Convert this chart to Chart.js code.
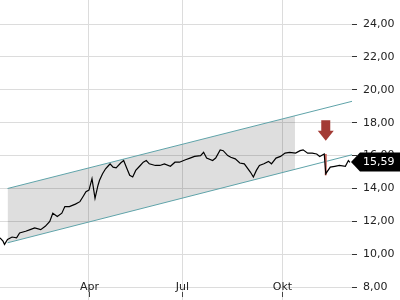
<!DOCTYPE html>
<html>
<head>
<meta charset="utf-8">
<script src="https://cdn.jsdelivr.net/npm/chart.js@4.4.1/dist/chart.umd.min.js"></script>
<style>
  html, body { margin: 0; padding: 0; background: #fff; }
  #wrap { width: 400px; height: 300px; }
</style>
</head>
<body>
<div id="wrap"><canvas id="kursChart"></canvas></div>
<script>
// trading-day index and closing price
const days = [0, 2, 3, 5, 8, 11, 13, 17, 20, 23, 27, 30, 33, 35, 38, 41, 43, 46, 50, 53,
  55, 57, 59, 61, 63, 65, 66, 68, 70, 72, 73, 75, 77, 80, 82, 84, 86, 88, 90, 93,
  95, 97, 99, 103, 106, 109, 113, 116, 119, 123, 126, 129, 133, 135, 137, 141, 143, 146, 148, 151,
  153, 156, 159, 162, 166, 168, 170, 172, 175, 178, 180, 183, 186, 189, 192, 196, 199, 201, 204, 207,
  210, 212, 215, 216, 219, 222, 225, 229, 231, 232];
const close = [11.0, 10.8, 10.6, 10.9, 11.05, 11.0, 11.3, 11.4, 11.5, 11.6, 11.5, 11.7, 12.0, 12.5, 12.3, 12.5, 12.9, 12.9, 13.05, 13.2,
  13.5, 13.8, 13.9, 14.6, 13.4, 14.2, 14.5, 14.9, 15.2, 15.4, 15.5, 15.3, 15.25, 15.55, 15.7, 15.25, 14.8, 14.7, 15.1, 15.4,
  15.6, 15.7, 15.5, 15.4, 15.4, 15.5, 15.35, 15.6, 15.6, 15.75, 15.85, 15.95, 16.0, 16.2, 15.85, 15.7, 15.85, 16.35, 16.3, 16.0,
  15.9, 15.8, 15.55, 15.5, 15.0, 14.7, 15.1, 15.4, 15.5, 15.65, 15.5, 15.85, 15.95, 16.15, 16.2, 16.15, 16.3, 16.35, 16.15, 16.15,
  16.1, 15.95, 16.1, 14.9, 15.3, 15.35, 15.4, 15.35, 15.7, 15.59];

// trend channel (start / end of the lines, end of the shaded part)
const channelDays = [5, 233.4];
const channelUpper = [14.0, 19.3];
const channelLower = [10.7, 16.05];
const shadeDays = [5, 195.6];
const shadeUpper = [14.0, 18.42];
const shadeLower = [10.7, 15.16];

// sell signal bar and arrow
const signalDay = [216, 216];
const signalRange = [16.1, 14.8];
const arrowDay = 216;
const arrowTop = 18.15;
const arrowTip = 16.9;

const monthLabels = ['Apr', 'Jul', 'Okt'];
const monthDays = [59, 121, 187];
const yTicks = [8, 10, 12, 14, 16, 18, 20, 22, 24];

const FONT = "'DejaVu Sans', sans-serif";
const fmt = v => v.toFixed(2).replace('.', ',');
const pts = (xs, ys) => xs.map((x, i) => ({ x: x, y: ys[i] }));

function noPadding(s) {
  s.paddingTop = 0;
  s.paddingBottom = 0;
  s.paddingLeft = 0;
  s.paddingRight = 0;
}

const overlay = {
  id: 'overlay',
  afterDatasetsDraw(chart) {
    const ctx = chart.ctx;
    const x = chart.scales.x, y = chart.scales.y;

    // red arrow
    const ax = x.getPixelForValue(arrowDay);
    const top = y.getPixelForValue(arrowTop);
    const tip = y.getPixelForValue(arrowTip);
    const neck = tip - 10;
    ctx.save();
    ctx.fillStyle = '#a33b35';
    ctx.beginPath();
    ctx.moveTo(ax - 4.5, top);
    ctx.lineTo(ax + 4.5, top);
    ctx.lineTo(ax + 4.5, neck);
    ctx.lineTo(ax + 8, neck);
    ctx.lineTo(ax, tip);
    ctx.lineTo(ax - 8, neck);
    ctx.lineTo(ax - 4.5, neck);
    ctx.closePath();
    ctx.fill();
    ctx.restore();
  },
  afterDraw(chart) {
    const ctx = chart.ctx;
    const x = chart.scales.x, y = chart.scales.y;
    const area = chart.chartArea;

    // month labels inside the plot, with small tick below
    ctx.save();
    ctx.font = '11px ' + FONT;
    ctx.fillStyle = '#222';
    ctx.textAlign = 'center';
    ctx.textBaseline = 'middle';
    monthDays.forEach((d, i) => {
      const px = Math.round(x.getPixelForValue(d)) + 0.5;
      ctx.fillText(monthLabels[i], px, 287);
      ctx.strokeStyle = '#444';
      ctx.lineWidth = 1;
      ctx.beginPath();
      ctx.moveTo(px, 292);
      ctx.lineTo(px, 297);
      ctx.stroke();
    });

    // last price tag
    const last = close[close.length - 1];
    const py = Math.round(y.getPixelForValue(last));
    const left = area.right - 1;
    ctx.fillStyle = '#000';
    ctx.beginPath();
    ctx.moveTo(left, py);
    ctx.lineTo(left + 9, py - 9.5);
    ctx.lineTo(400, py - 9.5);
    ctx.lineTo(400, py + 9.5);
    ctx.lineTo(left + 9, py + 9.5);
    ctx.closePath();
    ctx.fill();
    ctx.fillStyle = '#fff';
    ctx.textAlign = 'left';
    ctx.fillText(fmt(last), 363, py + 0.5);
    ctx.restore();
  }
};

new Chart(document.getElementById('kursChart'), {
  type: 'line',
  data: {
    datasets: [
      {
        data: pts(days, close),
        borderColor: '#000',
        borderWidth: 1.2,
        pointRadius: 0,
        tension: 0
      },
      {
        data: pts(signalDay, signalRange),
        borderColor: '#c9665d',
        borderWidth: 2,
        pointRadius: 0
      },
      {
        data: pts(channelDays, channelUpper),
        borderColor: '#5fa3a9',
        borderWidth: 1,
        pointRadius: 0
      },
      {
        data: pts(channelDays, channelLower),
        borderColor: '#5fa3a9',
        borderWidth: 1,
        pointRadius: 0
      },
      {
        data: pts(shadeDays, shadeUpper),
        borderWidth: 0,
        borderColor: 'rgba(0,0,0,0)',
        backgroundColor: 'rgba(0,0,0,0.13)',
        pointRadius: 0,
        fill: 5
      },
      {
        data: pts(shadeDays, shadeLower),
        borderWidth: 0,
        borderColor: 'rgba(0,0,0,0)',
        pointRadius: 0,
        fill: false
      }
    ]
  },
  options: {
    responsive: true,
    maintainAspectRatio: false,
    animation: false,
    layout: { padding: 0 },
    plugins: {
      legend: { display: false },
      tooltip: { enabled: false }
    },
    scales: {
      x: {
        type: 'linear',
        min: 0,
        max: 233.4,
        afterBuildTicks: s => { s.ticks = monthDays.map(v => ({ value: v })); },
        afterFit: s => { s.height = 0; noPadding(s); },
        ticks: { display: false },
        grid: { color: '#dcdcdc', lineWidth: 1, drawTicks: false },
        border: { display: false }
      },
      y: {
        position: 'right',
        min: 7.222,
        max: 25.459,
        afterBuildTicks: s => { s.ticks = yTicks.map(v => ({ value: v })); },
        afterFit: s => { s.width = 48; noPadding(s); },
        ticks: {
          callback: v => fmt(v),
          color: '#222',
          padding: 6,
          font: { family: FONT, size: 11 }
        },
        grid: { color: '#dcdcdc', lineWidth: 1, tickLength: 5, tickColor: '#333' },
        border: { display: false }
      }
    }
  },
  plugins: [overlay]
});
</script>
</body>
</html>
